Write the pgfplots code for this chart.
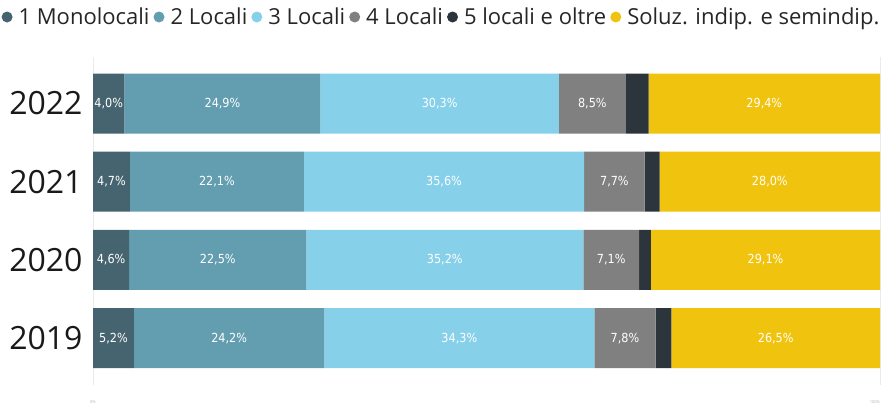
\documentclass[border=0pt]{standalone}
\usepackage{pgfplots}
\pgfplotsset{compat=1.18}
\usepackage{pgfplotstable}
\usepackage{fontspec}
\setmainfont{Open Sans}
\newfontfamily\labfont{DejaVu Sans Condensed}
\definecolor{cA}{RGB}{70,100,112}
\definecolor{cB}{RGB}{98,157,176}
\definecolor{cC}{RGB}{134,208,234}
\definecolor{cD}{RGB}{128,128,128}
\definecolor{cE}{RGB}{43,53,59}
\definecolor{cF}{RGB}{240,195,14}
\pgfplotstableread{
idx year a b c d e f
0 2022 4.0 24.9 30.3 8.5 2.9 29.4
1 2021 4.7 22.1 35.6 7.7 1.9 28.0
2 2020 4.6 22.5 35.2 7.1 1.5 29.1
3 2019 5.2 24.2 34.3 7.8 2.0 26.5
}\datatable
\pgfplotsset{
  lab/.style={
    point meta=\thisrow{#1},
    nodes near coords={\pgfmathprintnumber[fixed,fixed zerofill,precision=1,use comma,assume math mode=true]{\pgfplotspointmeta}\%},
  }
}
\begin{document}
\begin{tikzpicture}
\useasboundingbox (0,0) rectangle (883pt,-408pt);
\begin{axis}[
  at={(93pt,-56.6pt)}, anchor=north west, scale only axis,
  width=787pt, height=328.4pt,
  xbar stacked, bar width=60pt,
  xmin=0, xmax=100, ymin=-0.6, ymax=3.6, y dir=reverse,
  axis line style={draw=none},
  major tick length=0pt,
  xmajorgrids, grid style={black!8, line width=0.8pt},
  ytick={0,1,2,3}, yticklabels={2022,2021,2020,2019},
  yticklabel style={font=\fontsize{32}{32}\selectfont, text=black!90, xshift=-7pt},
  xtick={0,100}, xticklabels={0\%,\llap{100\%}},
  xticklabel style={font=\fontsize{4}{4}\selectfont, text=black!30, yshift=-12pt},
  every node near coord/.append style={font=\labfont\fontsize{12.5}{12.5}\selectfont, text=white, anchor=center, inner sep=0pt},
  legend columns=6,
  legend style={at={(0.4428,1.1206)}, anchor=center, draw=none, fill=none,
    font=\fontsize{22}{22}\selectfont, text=black!85,
    /tikz/every even column/.append style={column sep=2pt},
    /tikz/every odd column/.append style={column sep=4pt}},
  legend image code/.code={\fill[#1] (0pt,0pt) circle (5.5pt);},
]
\addplot[fill=cA, draw=none, lab=a] table[x=a, y=idx] {\datatable};
\addlegendentry{1 Monolocali}
\addplot[fill=cB, draw=none, lab=b] table[x=b, y=idx] {\datatable};
\addlegendentry{2 Locali}
\addplot[fill=cC, draw=none, lab=c] table[x=c, y=idx] {\datatable};
\addlegendentry{3 Locali}
\addplot[fill=cD, draw=none, lab=d] table[x=d, y=idx] {\datatable};
\addlegendentry{4 Locali}
\addplot[fill=cE, draw=none] table[x=e, y=idx] {\datatable};
\addlegendentry{5 locali e oltre}
\addplot[fill=cF, draw=none, lab=f] table[x=f, y=idx] {\datatable};
\addlegendentry{Soluz. indip. e semindip.}
\end{axis}
\end{tikzpicture}
\end{document}
